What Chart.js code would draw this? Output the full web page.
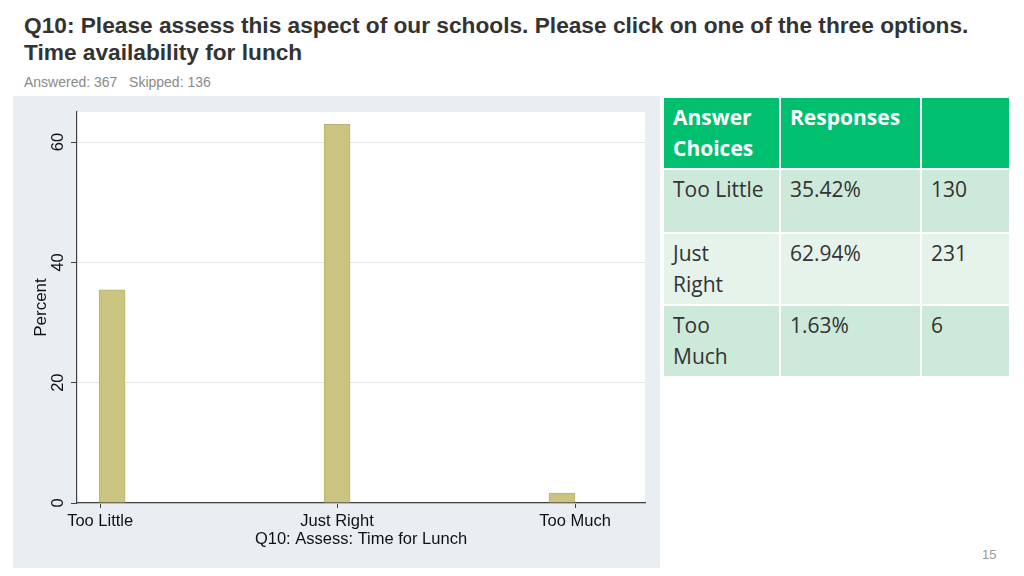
<!DOCTYPE html>
<html>
<head>
<meta charset="utf-8">
<script src="https://cdn.jsdelivr.net/npm/chart.js@4/dist/chart.umd.min.js"></script>
<style>
  html, body { margin:0; padding:0; background:#fff; }
  body { width:1024px; height:576px; position:relative; overflow:hidden; font-family:"Liberation Sans", Arial, sans-serif; }
  .title { position:absolute; left:24px; top:12px; font-size:22.7px; font-weight:bold; color:#333; line-height:27px; white-space:nowrap; }
  .meta { position:absolute; left:24px; top:74px; font-size:14px; color:#8a8a8a; }
  .panel { position:absolute; left:13px; top:96px; width:647px; height:472px; background:#e9eef2; }
  .panel canvas { position:absolute; left:0; top:0; }
  table { position:absolute; left:662px; top:96px; width:349px; border-collapse:collapse; font-family:"Open Sans", "Noto Sans", sans-serif; font-size:21px; color:#333; }
  td, th { border:2px solid #fff; padding:4px 9px; vertical-align:top; text-align:left; line-height:31px; font-weight:normal; }
  th { background:#00bf6f; color:#fff; font-weight:bold; height:61px; }
  tr.odd td { background:#cde9d9; }
  tr.even td { background:#e6f3eb; }
  .page { position:absolute; left:982px; top:547px; font-size:13px; color:#999; }
</style>
</head>
<body>
<div class="title">Q10: Please assess this aspect of our schools. Please click on one of the three options.<br>Time availability for lunch</div>
<div class="meta">Answered: 367&nbsp;&nbsp;&nbsp;Skipped: 136</div>
<div class="panel"><canvas id="chart" width="647" height="472"></canvas></div>
<table id="tbl"></table>
<div class="page">15</div>
<script>
/* ---------- data ---------- */
const categories = ["Too Little", "Just Right", "Too Much"];
const tableLabels = ["Too Little", "Just<br>Right", "Too<br>Much"];
const percents = [35.42, 62.94, 1.63];
const counts = [130, 231, 6];
const yTicks = [0, 20, 40, 60];
// label ticks sit a little off the bar centres in the original (outer ones at bar edges)
const xTickValues = [-0.053, 1, 2.058];

/* ---------- table ---------- */
const tbl = document.getElementById("tbl");
tbl.innerHTML =
  `<tr><th style="width:97px">Answer<br>Choices</th><th style="width:121px">Responses</th><th></th></tr>` +
  categories.map((c, i) => `
    <tr class="${i % 2 ? "even" : "odd"}" style="height:${i ? 71 : 64}px">
      <td>${tableLabels[i]}</td><td>${percents[i].toFixed(2)}%</td><td>${counts[i]}</td>
    </tr>`).join("");

/* ---------- chart ---------- */
// white plot region inside the grey panel
const plotBg = {
  id: "plotBg",
  beforeDraw(chart) {
    const { ctx, chartArea: a } = chart;
    ctx.save();
    ctx.fillStyle = "#fff";
    ctx.fillRect(a.left, a.top, a.right - a.left, a.bottom - a.top);
    ctx.restore();
  }
};

const axisColor = "#404040";
const font = { family: "Liberation Sans", size: 16.5 };
new Chart(document.getElementById("chart"), {
  type: "bar",
  data: {
    datasets: [{
      data: categories.map((c, i) => ({ x: i, y: percents[i] })),
      backgroundColor: "#c9c47f",
      borderColor: "#b9b36c",
      borderWidth: 1,
      barThickness: 26,
    }]
  },
  plugins: [plotBg],
  options: {
    responsive: false, animation: false,
    layout: { padding: { top: 16, right: 15, left: 18, bottom: 19 } },
    plugins: { legend: { display: false }, tooltip: { enabled: false } },
    scales: {
      x: {
        type: "linear", min: -0.156, max: 2.369, offset: false,
        afterBuildTicks: s => { s.ticks = xTickValues.map(v => ({ value: v })); },
        afterFit: s => { s.height = 46; },
        grid: { offset: false, drawOnChartArea: false, tickLength: 5, tickColor: axisColor },
        border: { color: axisColor, width: 1.2 },
        ticks: { color: "#111", font, padding: 4, maxRotation: 0,
                 callback: (v, i) => categories[i] },
        title: { display: true, text: "Q10: Assess: Time for Lunch", color: "#111", font, padding: 0 },
      },
      y: {
        min: 0, max: 65,
        afterBuildTicks: s => { s.ticks = yTicks.map(v => ({ value: v })); },
        afterFit: s => { s.width = 46; },
        grid: { color: "#e6e6e6", tickLength: 6, tickColor: axisColor, lineWidth: 1 },
        border: { color: axisColor, width: 1.2 },
        ticks: { color: "#111", font, minRotation: 90, maxRotation: 90, crossAlign: "center", padding: 3 },
        title: { display: true, text: "Percent", color: "#111", font: { family: "Liberation Sans", size: 17 }, padding: 0 },
      }
    }
  }
});
</script>
</body>
</html>
